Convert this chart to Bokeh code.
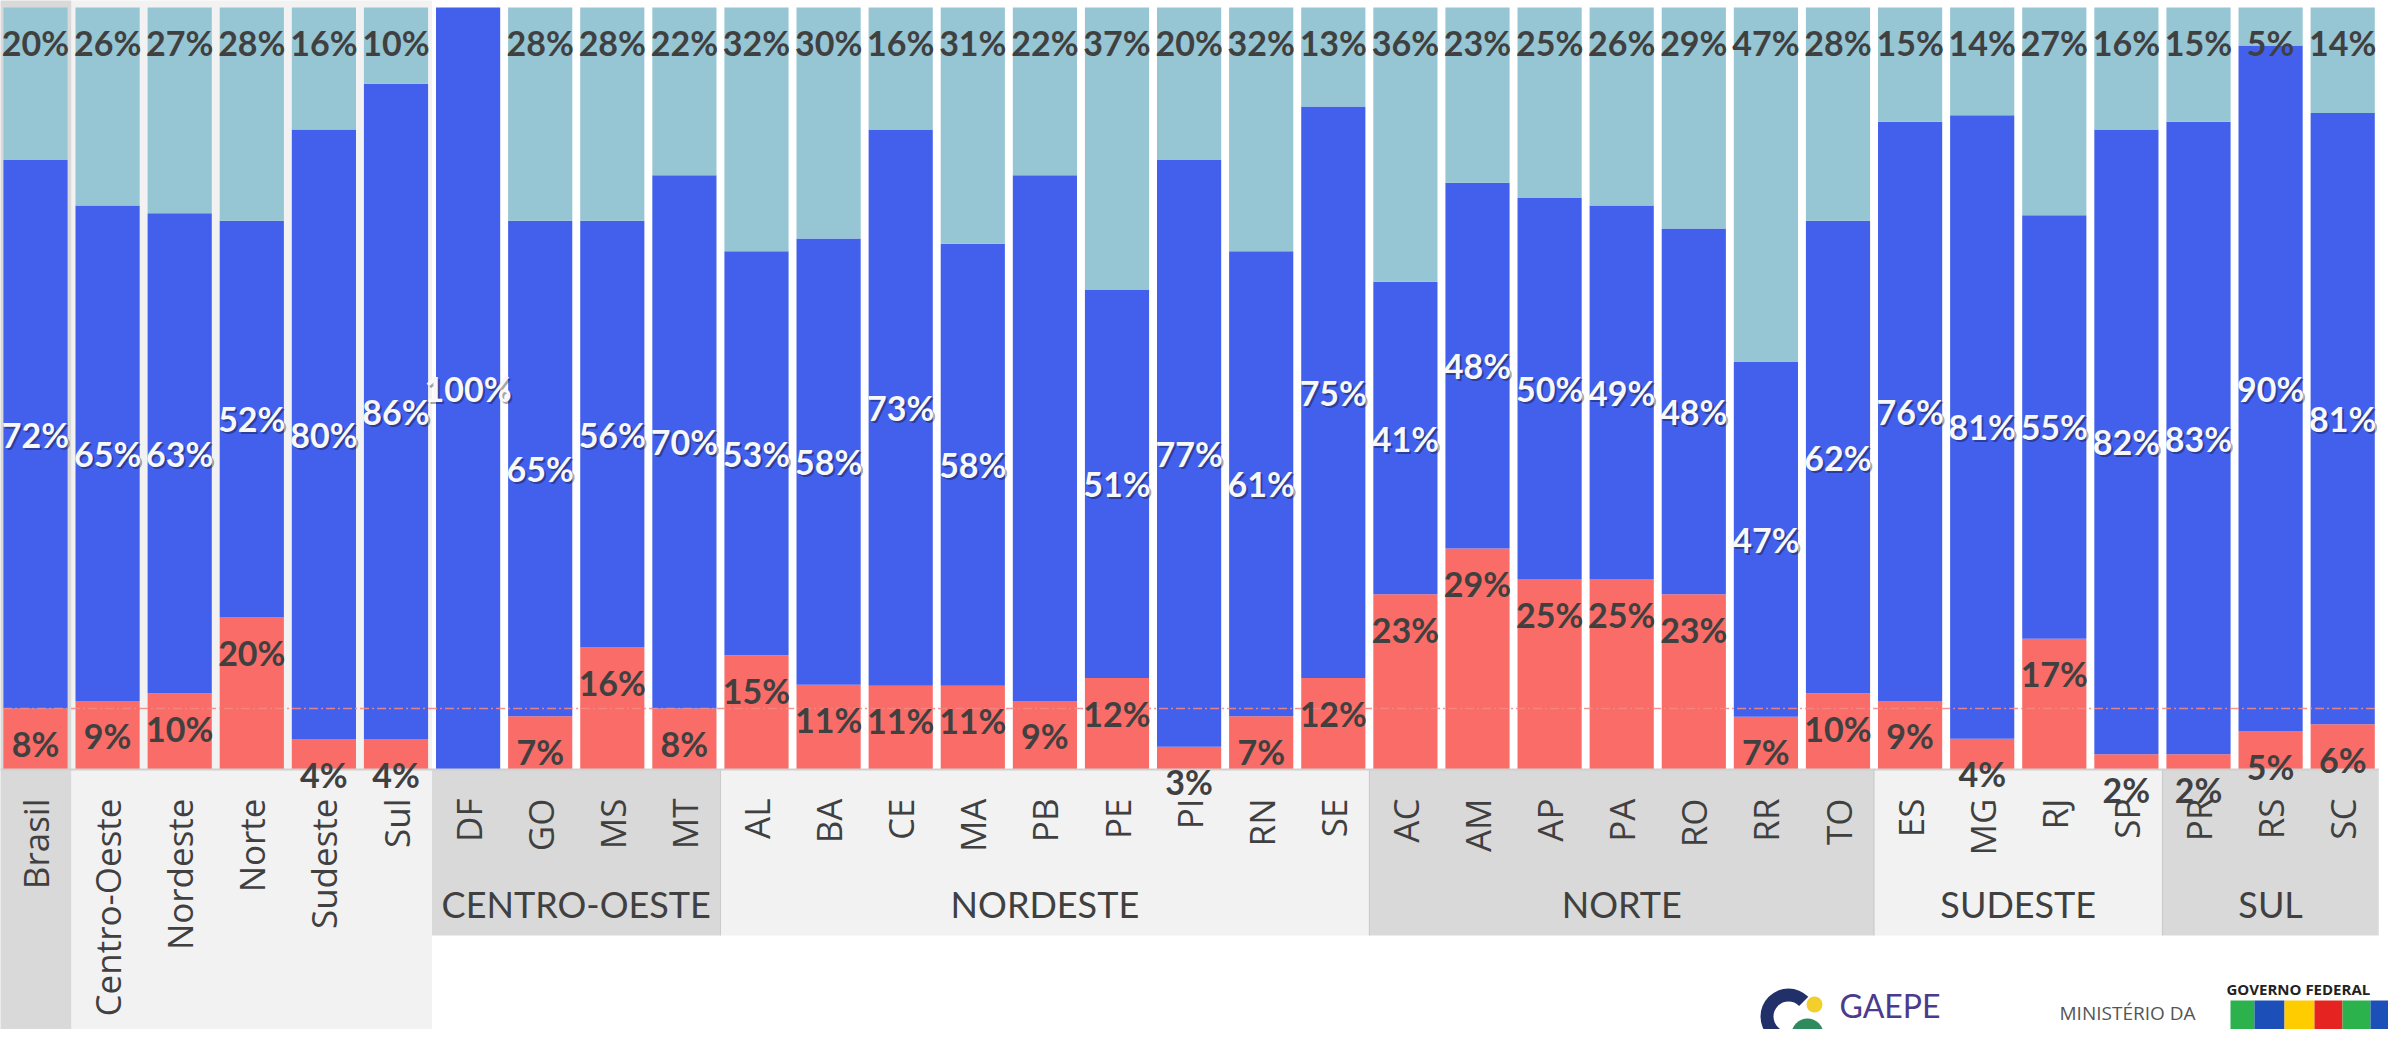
import math
import numpy as np
from bokeh.plotting import figure
from bokeh.models import ColumnDataSource, Range1d
from bokeh.core.properties import value
from bokeh.embed import file_html
from bokeh.resources import INLINE

# ---------------- data ----------------
labels = ["Brasil", "Centro-Oeste", "Nordeste", "Norte", "Sudeste", "Sul",
          "DF", "GO", "MS", "MT",
          "AL", "BA", "CE", "MA", "PB", "PE", "PI", "RN", "SE",
          "AC", "AM", "AP", "PA", "RO", "RR", "TO",
          "ES", "MG", "RJ", "SP",
          "PR", "RS", "SC"]
red = [8, 9, 10, 20, 4, 4,
       0, 7, 16, 8,
       15, 11, 11, 11, 9, 12, 3, 7, 12,
       23, 29, 25, 25, 23, 7, 10,
       9, 4, 17, 2,
       2, 5, 6]
blue = [72, 65, 63, 52, 80, 86,
        100, 65, 56, 70,
        53, 58, 73, 58, 69, 51, 77, 61, 75,
        41, 48, 50, 49, 48, 47, 62,
        76, 81, 55, 82,
        83, 90, 81]
top = [20, 26, 27, 28, 16, 10,
       0, 28, 28, 22,
       32, 30, 16, 31, 22, 37, 20, 32, 13,
       36, 23, 25, 26, 29, 47, 28,
       15, 14, 27, 16,
       15, 5, 14]
blue_label_hidden = ["PB"]
overview_sizes = [1, 5]          # Brasil, regions
group_names = ["CENTRO-OESTE", "NORDESTE", "NORTE", "SUDESTE", "SUL"]
group_sizes = [4, 9, 7, 4, 3]

# ---------------- style ----------------
RED = "#F96C67"
BLUE = "#4360EC"
LIGHT = "#96C5D4"
DARK_BAND = "#D9D9D9"
LIGHT_BAND = "#F2F2F2"
TXT = "#404040"

W, H = 2388, 1029
PX_PER_SLOT = 72.1
PX_PER_PCT = 7.62
X0_PX = 35.0      # first slot centre from figure left
BASE_PX = 769.0   # baseline from figure top

x_start = -X0_PX / PX_PER_SLOT
x_end = (W - X0_PX) / PX_PER_SLOT
y_end = BASE_PX / PX_PER_PCT
y_start = -(H - BASE_PX) / PX_PER_PCT


def X(px):  # screen px (page) -> data x
    return (px - 8 - X0_PX) / PX_PER_SLOT


def Y(py):  # screen px (page) -> data y
    return (BASE_PX - (py - 8)) / PX_PER_PCT


p = figure(width=W, height=H, x_range=Range1d(x_start, x_end),
           y_range=Range1d(y_start, y_end), output_backend="svg",
           toolbar_location=None, x_axis_location=None, y_axis_location=None,
           min_border=0, min_border_left=0, min_border_right=0,
           min_border_top=0, min_border_bottom=0)
p.grid.visible = False
p.outline_line_color = None
p.background_fill_color = "white"
p.border_fill_color = "white"

n = len(labels)
idx = np.arange(n)
r_arr = np.array(red, float)
b_arr = np.array(blue, float)
t_arr = np.array(top, float)
tot = r_arr + b_arr + t_arr
r_n = r_arr / tot * 100
b_n = b_arr / tot * 100
t_n = t_arr / tot * 100

# ---------------- background bands ----------------
ov_edges = np.cumsum([0] + overview_sizes) - 0.5
ov_colors = [DARK_BAND, LIGHT_BAND]
p.quad(left=ov_edges[:-1], right=ov_edges[1:], bottom=y_start - 5, top=y_end + 5,
       fill_color=ov_colors, line_color=None)

g_edges = np.cumsum([sum(overview_sizes)] + group_sizes) - 0.5
g_colors = [DARK_BAND if i % 2 == 0 else LIGHT_BAND for i in range(len(group_sizes))]
band_bottom = Y(943)
p.quad(left=g_edges[:-1], right=g_edges[1:], bottom=band_bottom, top=0,
       fill_color=g_colors, line_color=None)
p.segment(x0=g_edges[1:-1], x1=g_edges[1:-1], y0=band_bottom, y1=0,
          line_color="#C8C8C8", line_width=1)

# ---------------- bars ----------------
BW = 0.89
p.vbar(x=idx, bottom=0, top=r_n, width=BW, fill_color=RED, line_color=None)
p.vbar(x=idx, bottom=r_n, top=r_n + b_n, width=BW, fill_color=BLUE, line_color=None)
p.vbar(x=idx, bottom=r_n + b_n, top=r_n + b_n + t_n, width=BW, fill_color=LIGHT, line_color=None)

# baseline
p.segment(x0=[-0.5], x1=[n - 0.5], y0=[0], y1=[0], line_color="#D0D0D0", line_width=2)

# reference line at Brasil level
p.segment(x0=[-0.45], x1=[n - 0.55], y0=[r_n[0]], y1=[r_n[0]],
          line_color="#F28A84", line_width=1.5, line_dash="9 3 2 3", line_alpha=0.9)

# ---------------- value labels ----------------
off = 35 / PX_PER_PCT
red_src = ColumnDataSource(dict(
    x=[i for i in idx if red[i] > 0],
    y=[r_n[i] - off for i in idx if red[i] > 0],
    t=[f"{red[i]}%" for i in idx if red[i] > 0]))
top_src = ColumnDataSource(dict(
    x=[i for i in idx if top[i] > 0],
    y=[100 - off for i in idx if top[i] > 0],
    t=[f"{top[i]}%" for i in idx if top[i] > 0]))
blue_keep = [i for i in idx if blue[i] > 0 and labels[i] not in blue_label_hidden]
blue_src = ColumnDataSource(dict(
    x=blue_keep,
    y=[r_n[i] + b_n[i] / 2 for i in blue_keep],
    t=[f"{blue[i]}%" for i in blue_keep]))

lab_kw = dict(text="t", text_font=value("Lato"), text_font_style="bold",
              text_font_size="34px", text_align="center", text_baseline="middle")
p.text(x="x", y="y", source=red_src, text_color=TXT, **lab_kw)
p.text(x="x", y="y", source=top_src, text_color=TXT, **lab_kw)
p.text(x="x", y="y", source=blue_src, text_color="black", text_alpha=0.35,
       x_offset=2, y_offset=2, **lab_kw)
p.text(x="x", y="y", source=blue_src, text_color="#F8F8F8", **lab_kw)

# ---------------- category labels ----------------
cat_src = ColumnDataSource(dict(x=idx, y=[Y(806)] * n, t=labels))
p.text(x="x", y="y", text="t", source=cat_src, angle=math.pi / 2,
       text_font=value("Open Sans"), text_font_size="35px", text_color=TXT,
       text_align="right", text_baseline="middle")

g_src = ColumnDataSource(dict(x=(g_edges[:-1] + g_edges[1:]) / 2,
                              y=[Y(911)] * len(group_names), t=group_names))
p.text(x="x", y="y", text="t", source=g_src, text_font=value("Lato"),
       text_font_size="36px", text_color=TXT, text_align="center",
       text_baseline="middle")

# ---------------- footer logos (approximate) ----------------
p.annular_wedge(x=[X(1796)], y=[Y(1024)], inner_radius=15, outer_radius=28,
                inner_radius_units="screen", outer_radius_units="screen",
                start_angle=math.radians(45), end_angle=math.radians(315),
                fill_color="#22306A", line_color=None)
p.scatter(x=[X(1822)], y=[Y(1012)], size=16, marker="circle",
          fill_color="#F2CF2B", line_color=None)
p.wedge(x=[X(1815)], y=[Y(1042)], radius=16, radius_units="screen",
        start_angle=0, end_angle=math.pi, fill_color="#2E8B5E", line_color=None)
p.text(x=[X(1847)], y=[Y(1013)], text=["GAEPE"], text_font=value("Lato"),
       text_font_size="32px", text_color="#4B3B8C", text_align="left",
       text_baseline="middle")
p.text(x=[X(2203)], y=[Y(1020)], text=["MINISTÉRIO DA"], text_font=value("Open Sans"),
       text_font_size="19px", text_color="#555555", text_align="right",
       text_baseline="middle")
p.text(x=[X(2234)], y=[Y(996)], text=["GOVERNO FEDERAL"], text_font=value("Open Sans"),
       text_font_style="bold", text_font_size="15px", text_color="#222222",
       text_align="left", text_baseline="middle")
blk_px = [2238, 2262, 2292, 2322, 2350, 2378, 2406]
blk_col = ["#2BB24C", "#1D4FB8", "#FFCC00", "#E52421", "#2BB24C", "#1D4FB8"]
p.quad(left=[X(v) for v in blk_px[:-1]], right=[X(v) for v in blk_px[1:]],
       bottom=[Y(1050)] * 6, top=[Y(1008)] * 6, fill_color=blk_col, line_color=None)

open("out.html", "w").write(file_html(p, INLINE))
